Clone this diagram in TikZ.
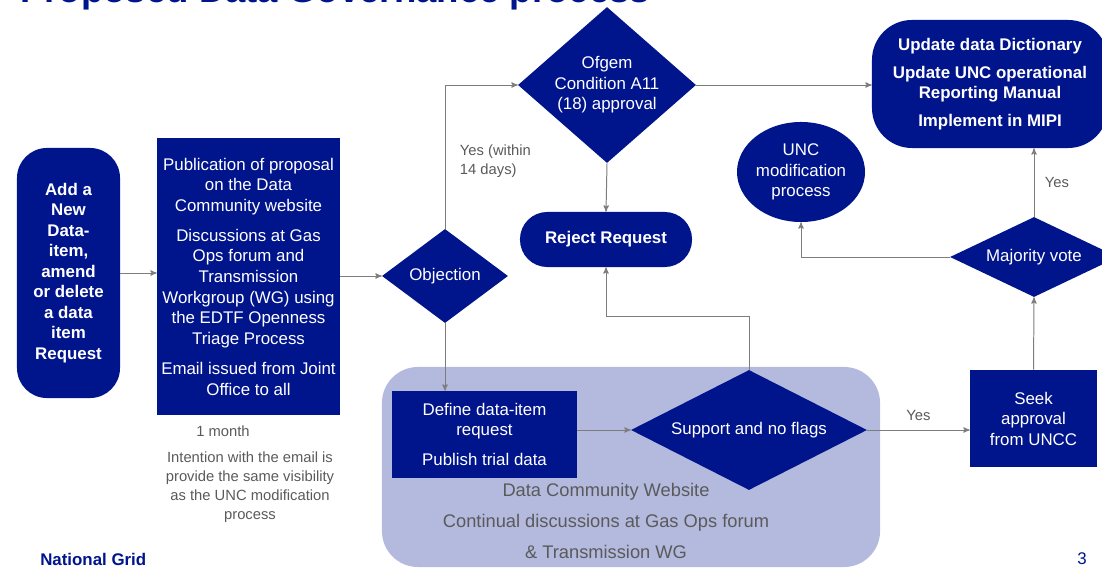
\documentclass[tikz,border=0pt]{standalone}
\usepackage{fontspec}
\setmainfont{Liberation Sans}
\usepackage{tikz}
\usetikzlibrary{arrows}
\usetikzlibrary{calc}
\usetikzlibrary{shapes.geometric}
\definecolor{ngblue}{RGB}{0,20,140}
\definecolor{ngpale}{RGB}{180,186,222}
\definecolor{ngtext}{RGB}{90,90,90}
\definecolor{ngline}{RGB}{125,125,125}
\begin{document}
\begin{tikzpicture}[>=stealth',x=0.025cm,y=-0.025cm]
			\tikzstyle{box}=[rectangle,fill=ngblue,text=white,inner sep=0pt,align=center,font=\fontsize{12}{14.6}\selectfont];
			\tikzstyle{terminal}=[box,font=\bfseries\fontsize{12}{14.6}\selectfont];
			\tikzstyle{decision}=[diamond,fill=ngblue,text=white,inner sep=0pt,align=center,font=\fontsize{12}{14.6}\selectfont];
			\tikzstyle{note}=[text=ngtext,align=center,font=\fontsize{10.5}{13.6}\selectfont];
			\tikzstyle{flow}=[draw=ngline,line width=0.7pt];
			\useasboundingbox (0,0) rectangle (1102,569);
			% background panel
			\node[fill=ngpale,rounded corners=0.9cm,minimum width=12.45cm,minimum height=5cm](web)at(631,467){};
			\node[note,font=\fontsize{13}{22}\selectfont](webtxt)at(606,521){Data Community Website\\Continual discussions at Gas Ops forum\\\& Transmission WG};
			% title and footer
			\node[anchor=base west,text=ngblue,font=\bfseries\fontsize{26}{30}\selectfont,inner sep=0pt](title)at(20,3){Proposed Data Governance process};
			\node[anchor=west,text=ngblue,font=\bfseries\fontsize{12}{14}\selectfont,inner sep=0pt](ng)at(40,559){National Grid};
			\node[text=ngblue,font=\fontsize{12}{14}\selectfont,inner sep=0pt](page)at(1082,559){3};
			% nodes
			\node[terminal,rounded corners=0.75cm,minimum width=2.575cm,minimum height=6.25cm](add)at(68.5,273){Add a\\New\\Data-\\item,\\amend\\or delete\\a data\\item\\Request};
			\node[box,minimum width=4.575cm,minimum height=6.925cm](pub)at(248.5,276.5){Publication of proposal\\on the Data\\Community website\\[7pt]Discussions at Gas\\Ops forum and\\Transmission\\Workgroup (WG) using\\the EDTF Openness\\Triage Process\\[7pt]Email issued from Joint\\Office to all};
			\node[decision,aspect=1.34,minimum width=3.15cm,minimum height=2.35cm](obj)at(445,276){Objection};
			\node[decision,aspect=1.14,minimum width=4.45cm,minimum height=3.9cm](ofgem)at(607,85){Ofgem\\Condition A11\\(18) approval};
			\node[terminal,rounded corners=0.68cm,minimum width=4.3cm,minimum height=1.375cm](rej)at(606,239.5){Reject Request};
			\node[terminal,rounded corners=1cm,minimum width=5.9cm,minimum height=3.2cm](upd)at(990,84){Update data Dictionary\\[5pt]Update UNC operational\\Reporting Manual\\[5pt]Implement in MIPI};
			\node[ellipse,fill=ngblue,text=white,inner sep=0pt,align=center,font=\fontsize{12}{14.6}\selectfont,minimum width=3.2cm,minimum height=2.5cm](unc)at(801,172){UNC\\modification\\process};
			\node[decision,aspect=2.1,minimum width=4.2cm,minimum height=2cm](maj)at(1034,257){Majority vote};
			\node[box,minimum width=3.175cm,minimum height=2.425cm](seek)at(1033.5,418.5){Seek\\approval\\from UNCC};
			\node[box,minimum width=4.625cm,minimum height=2.175cm](def)at(484.5,434.5){Define data-item\\request\\[7pt]Publish trial data};
			\node[decision,aspect=1.97,minimum width=5.9cm,minimum height=3cm](sup)at(749,430){Support and no flags};
			% notes
			\node[note](month)at(223,431){1 month};
			\node[note](intent)at(250,487){Intention with the email is\\provide the same visibility\\as the UNC modification\\process};
			\coordinate(bend)at(749,316);
			% connectors
			\draw[flow,->](add.east)--(pub.west|-add.east);
			\draw[flow,->](pub.east|-obj.west)--(obj.west);
			\draw[flow,->](obj.north)|-(ofgem.west);
			\node[note,anchor=north west,align=left](yes1)at(455,140){Yes (within\\14 days)};
			\draw[flow,->](obj.south)--(obj.south|-def.north);
			\draw[flow,->](ofgem.east)--(ofgem.east-|upd.west);
			\draw[flow,->](ofgem.south)--(rej.north);
			\draw[flow,->](sup.north)--(bend)-|(rej.south);
			\draw[flow,->](def.east|-sup)--(sup.west);
			\draw[flow,->](sup.east)--(sup.east-|seek.west)node[note,midway,above=3pt]{Yes};
			\draw[flow,->](seek.north)--(maj.south);
			\draw[flow,->](maj.north)--(maj.north|-upd.south)node[note,pos=0.5,right=4pt]{Yes};
			\draw[flow,->](maj.west)-|(unc.south);
		\end{tikzpicture}
\end{document}
